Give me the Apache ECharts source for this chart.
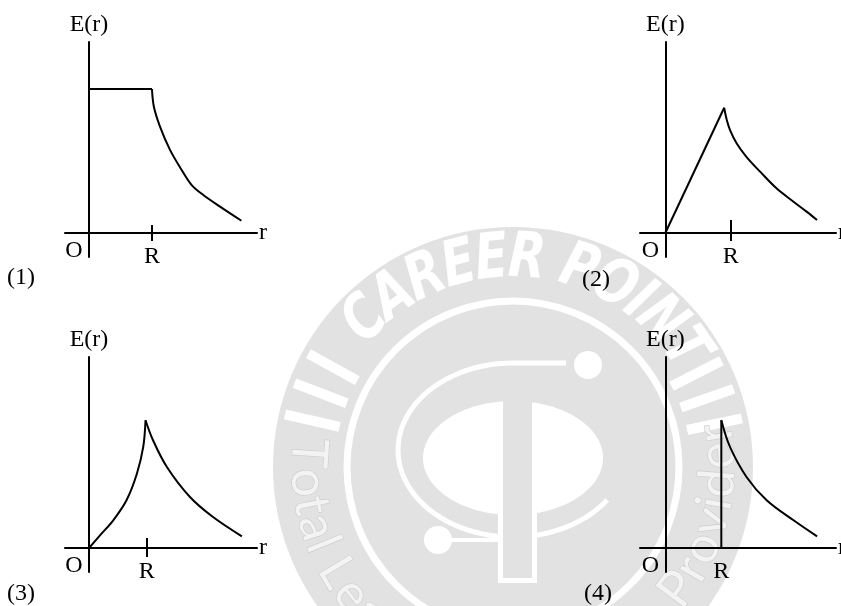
<!DOCTYPE html>
<html>
<head>
<meta charset="utf-8">
<script src="https://cdn.jsdelivr.net/npm/echarts@6/dist/echarts.min.js"></script>
<style>
html,body{margin:0;padding:0;background:#fff;}
#chart{width:841px;height:606px;}
</style>
</head>
<body>
<div id="chart"></div>
<script>
// ---------- DATA (r in units of R, E in arbitrary units; y-axis top = 100) ----------
const tickValues = [0, 1];
const tickLabels = ['O', 'R'];
const axisNameX = 'r';
const axisNameY = 'E(r)';
const panelLabels = ['(1)', '(2)', '(3)', '(4)'];
const yRange = [-12.57, 100];

// (1) constant inside, falling outside
const p1FlatR  = [0, 1];
const p1FlatE  = [75.4, 75.4];
const p1CurveR = [1, 1.03, 1.127, 1.286, 1.471, 1.63, 1.815, 2.08, 2.42];
const p1CurveE = [75.4, 66.1, 55.7, 43.5, 33.0, 25.1, 19.9, 13.8, 6.4];

// (2) linear rise, falling outside
const p2RiseR  = [0, 0.90];
const p2RiseE  = [0, 65.6];
const p2CurveR = [0.90, 0.94, 0.99, 1.09, 1.24, 1.45, 1.70, 1.96, 2.16, 2.32];
const p2CurveE = [65.6, 59.2, 53.9, 47.0, 39.9, 32.1, 23.4, 16.4, 11.2, 6.8];

// (3) curved rise, falling outside
const p3RiseR = [0, 0.19, 0.42, 0.65, 0.83, 0.94, 0.98];
const p3RiseE = [0, 6.6, 14.5, 25.0, 38.9, 52.9, 66.9];
const p3FallR = [0.98, 1.11, 1.35, 1.75, 2.15, 2.65];
const p3FallE = [66.9, 56.4, 42.4, 26.7, 16.2, 6.1];

// (4) zero inside, jump at R, falling outside
const p4JumpR = [1, 1];
const p4JumpE = [0, 66.9];
const p4FallR = [1.0, 1.155, 1.45, 1.81, 2.29, 2.71];
const p4FallE = [66.9, 52.9, 37.2, 25.0, 14.5, 6.1];

// ---------- LAYOUT ----------
const FONT = '"Liberation Serif", "Times New Roman", serif';
const panels = [
  { grid: {left: 65, top: 42, width: 192, height: 215}, xRange: [-0.381, 2.667], tickIn: 8, tickOut: 8,
    title: {left: 7, top: 266},
    lines: [{r: p1FlatR, e: p1FlatE, smooth: false}, {r: p1CurveR, e: p1CurveE, smooth: true}] },
  { grid: {left: 640, top: 42, width: 196, height: 215}, xRange: [-0.387, 2.61], tickIn: 13, tickOut: 8,
    title: {left: 582, top: 268},
    lines: [{r: p2RiseR, e: p2RiseE, smooth: false}, {r: p2CurveR, e: p2CurveE, smooth: true}] },
  { grid: {left: 65, top: 357, width: 192, height: 215}, xRange: [-0.416, 2.912], tickIn: 10, tickOut: 9,
    title: {left: 7, top: 582},
    lines: [{r: p3RiseR, e: p3RiseE, smooth: true}, {r: p3FallR, e: p3FallE, smooth: true}] },
  { grid: {left: 640, top: 357, width: 196, height: 215}, xRange: [-0.452, 3.048], tickIn: 0, tickOut: 0,
    title: {left: 584, top: 582},
    lines: [{r: p4JumpR, e: p4JumpE, smooth: false}, {r: p4FallR, e: p4FallE, smooth: true}] }
];

// ---------- WATERMARK (decorative background logo) ----------
function arcText(str, opts) {
  const ctx = document.createElement('canvas').getContext('2d');
  const fontAt = s => (opts.fontStyle || 'normal') + ' ' + (opts.fontWeight || 'normal') + ' ' + s + 'px ' + opts.fontFamily;
  ctx.font = fontAt(100);
  const chars = Array.from(str);
  const w100 = chars.map(c => ctx.measureText(c).width);
  const tot100 = w100.reduce((a, b) => a + b, 0);
  const spanRad = opts.spanDeg * Math.PI / 180;
  const size = 100 * spanRad * opts.radius / tot100;
  const widths = w100.map(w => w * size / 100);
  const dir = opts.top ? 1 : -1;
  let th = opts.centerDeg * Math.PI / 180 - dir * spanRad / 2;
  const els = [];
  chars.forEach((ch, k) => {
    const mid = th + dir * widths[k] / 2 / opts.radius;
    th += dir * widths[k] / opts.radius;
    if (ch === ' ') return;
    els.push({
      type: 'text', silent: true, z: -5,
      x: opts.cx + opts.radius * Math.cos(mid),
      y: opts.cy + opts.radius * Math.sin(mid),
      rotation: opts.top ? -(mid + Math.PI / 2) : (Math.PI / 2 - mid),
      scaleY: opts.stretch || 1,
      style: {
        text: ch, fontSize: size, fontFamily: opts.fontFamily,
        fontWeight: opts.fontWeight || 'normal', fontStyle: opts.fontStyle || 'normal',
        fill: opts.fill, stroke: opts.stroke || null, lineWidth: opts.lineWidth || 0,
        align: 'center', verticalAlign: 'middle', textAlign: 'center', textVerticalAlign: 'middle'
      }
    });
  });
  return els;
}

function ellipseArc(cx, cy, rx, ry, a0, a1, n) {
  const pts = [];
  for (let k = 0; k <= n; k++) {
    const t = (a0 + (a1 - a0) * k / n) * Math.PI / 180;
    pts.push([cx + rx * Math.cos(t), cy + ry * Math.sin(t)]);
  }
  return pts;
}

function watermark() {
  const cx = 513, cy = 467, G = '#e2e2e2', W = '#ffffff';
  const els = [];
  els.push({type: 'circle', silent: true, z: -10, shape: {cx, cy, r: 240}, style: {fill: G}});
  els.push({type: 'circle', silent: true, z: -9, shape: {cx, cy, r: 166}, style: {fill: null, stroke: W, lineWidth: 7}});
  // stripes
  [193, 201, 209, -27, -19.5, -12].forEach(a => {
    const t = a * Math.PI / 180;
    els.push({type: 'rect', silent: true, z: -8,
      x: cx + 206 * Math.cos(t), y: cy + 206 * Math.sin(t), rotation: -t,
      shape: {x: -28, y: -5, width: 56, height: 10}, style: {fill: W}});
  });
  // inner C / P
  const cPts = [[566, 363]].concat(ellipseArc(513, 450, 115, 87, -90, -325, 60));
  els.push({type: 'polyline', silent: true, z: -8, shape: {points: cPts}, style: {fill: null, stroke: W, lineWidth: 5}});
  els.push({type: 'ellipse', silent: true, z: -8, shape: {cx: 513, cy: 458, rx: 90, ry: 57}, style: {fill: W}});
  els.push({type: 'rect', silent: true, z: -7, shape: {x: 498, y: 500, width: 39, height: 83}, style: {fill: W}});
  els.push({type: 'rect', silent: true, z: -6, shape: {x: 503, y: 401, width: 29, height: 177}, style: {fill: G}});
  els.push({type: 'line', silent: true, z: -7, shape: {x1: 440, y1: 540, x2: 500, y2: 540}, style: {stroke: W, lineWidth: 4}});
  els.push({type: 'circle', silent: true, z: -7, shape: {cx: 588, cy: 365, r: 14}, style: {fill: W}});
  els.push({type: 'circle', silent: true, z: -7, shape: {cx: 438, cy: 540, r: 14}, style: {fill: W}});
  // texts
  arcText('CAREER POINT', {cx, cy, radius: 207, centerDeg: -85, spanDeg: 110, top: true, stretch: 1.3,
    fontFamily: '"DejaVu Sans"', fontWeight: 'bold', fontStyle: 'italic', fill: W}).forEach(e => els.push(e));
  arcText('Total Learning Solution Provider', {cx, cy, radius: 205, centerDeg: 88, spanDeg: 200, top: false,
    fontFamily: 'Lato', fill: '#f3f3f3', stroke: '#cccccc', lineWidth: 1.2}).forEach(e => els.push(e));
  return els;
}

// ---------- OPTION ----------
const option = {
  animation: false,
  backgroundColor: '#ffffff',
  title: [], grid: [], xAxis: [], yAxis: [], series: [],
  graphic: {elements: watermark()}
};
const lineStyle = {color: '#000', width: 2};

panels.forEach((p, i) => {
  option.title.push({
    text: panelLabels[i], left: p.title.left, top: p.title.top, padding: 0,
    textStyle: {fontFamily: FONT, fontSize: 24, fontWeight: 'normal', color: '#000'}
  });
  option.grid.push(Object.assign({outerBoundsMode: 'none', containLabel: false}, p.grid));
});
panels.forEach((p, i) => {
  option.xAxis.push({
    gridIndex: i, type: 'value', min: p.xRange[0], max: p.xRange[1],
    name: axisNameX, nameLocation: 'end', nameGap: 2,
    nameTextStyle: {fontFamily: FONT, fontSize: 24, color: '#000'},
    axisLine: {show: true, onZero: true, onZeroAxisIndex: i, lineStyle},
    axisTick: {show: p.tickOut > 0, customValues: [tickValues[1]], length: p.tickOut, lineStyle},
    axisLabel: {
      show: true, customValues: tickValues, margin: -18,
      formatter: v => (v === tickValues[0] ? '{o|' + tickLabels[0] + '}' : '{r|' + tickLabels[1] + '}'),
      rich: {
        o: {fontFamily: FONT, fontSize: 24, color: '#000', padding: [0, 30, 0, 0]},
        r: {fontFamily: FONT, fontSize: 24, color: '#000', padding: [6, 0, 0, 0]}
      }
    },
    splitLine: {show: false}
  });
});
panels.forEach((p, i) => {
  // companion axis carrying the inward half of the R tick
  option.xAxis.push({
    gridIndex: i, type: 'value', min: p.xRange[0], max: p.xRange[1], position: 'bottom',
    axisLine: {show: false, onZero: true, onZeroAxisIndex: i},
    axisTick: {show: p.tickIn > 0, inside: true, customValues: [tickValues[1]], length: p.tickIn, lineStyle},
    axisLabel: {show: false}, splitLine: {show: false}
  });
});
panels.forEach((p, i) => {
  option.yAxis.push({
    gridIndex: i, type: 'value', min: yRange[0], max: yRange[1],
    name: axisNameY, nameLocation: 'end', nameGap: 5,
    nameTextStyle: {fontFamily: FONT, fontSize: 24, color: '#000'},
    axisLine: {show: true, onZero: true, onZeroAxisIndex: i, lineStyle},
    axisTick: {show: false}, axisLabel: {show: false}, splitLine: {show: false}
  });
  p.lines.forEach(l => {
    option.series.push({
      type: 'line', xAxisIndex: i, yAxisIndex: i,
      data: l.r.map((r, k) => [r, l.e[k]]),
      smooth: l.smooth ? 0.35 : false,
      showSymbol: false, symbol: 'none', clip: false,
      lineStyle: {color: '#000', width: 2}, z: 5
    });
  });
});

const chart = echarts.init(document.getElementById('chart'), null, {renderer: 'canvas'});
chart.setOption(option);
</script>
</body>
</html>
